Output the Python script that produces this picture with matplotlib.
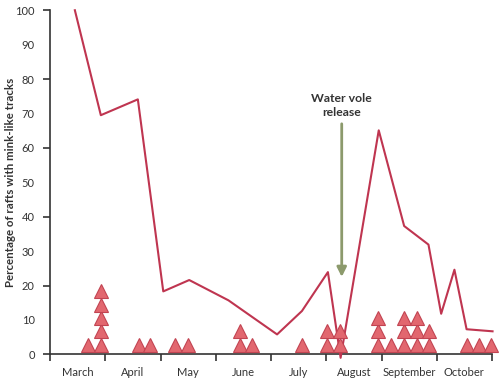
import numpy as np
import matplotlib.pyplot as plt
from matplotlib.ticker import FixedLocator

plt.rcParams['font.family'] = ['Lato', 'DejaVu Sans']

# x in month units (0 = start of March)
months = ['March', 'April', 'May', 'June', 'July', 'August', 'September', 'October']

line_x = [0.45, 0.92, 1.59, 2.05, 2.52, 3.23, 4.11, 4.56, 5.03, 5.26,
          5.95, 6.41, 6.85, 7.08, 7.32, 7.54, 8.01]
line_y = [100, 69.5, 74.1, 18.3, 21.6, 15.7, 5.8, 12.6, 23.9, -1,
          65.1, 37.3, 31.9, 11.8, 24.6, 7.3, 6.7]

tri_x = [0.69, 0.92, 1.61, 1.81, 2.27, 2.50, 3.43, 3.65, 4.56, 5.01,
         5.25, 5.93, 6.17, 6.40, 6.64, 6.86, 7.55, 7.77, 7.98]
tri_count = [1, 5, 1, 1, 1, 1, 2, 1, 1, 2, 2, 3, 1, 3, 3, 2, 1, 1, 1]

release_x = 5.28

fig = plt.figure(figsize=(5, 3.79), dpi=100)
ax = fig.add_axes([0.1, 0.065, 0.884, 0.908])

line_col = '#bf3550'
ax.plot(line_x, line_y, color=line_col, lw=1.5, clip_on=False, zorder=3)

# stacked triangle markers
px, py = [], []
for x, n in zip(tri_x, tri_count):
    for k in range(n):
        px.append(x)
        py.append(2.8 + 3.87 * k)
ax.plot(px, py, ls='none', marker='^', ms=9.5, mfc='#e2676f', mec='#c24452',
        mew=0.8, clip_on=False, zorder=4)

# release arrow
ax.annotate('', xy=(release_x, 22.5), xytext=(release_x, 67),
            arrowprops=dict(arrowstyle='-|>', color='#8c9a6c', lw=2,
                            mutation_scale=14, shrinkA=0, shrinkB=0))
ax.text(release_x, 68.8, 'Water vole\nrelease', ha='center', va='bottom',
        fontsize=8.8, fontweight='bold', color='#333333', linespacing=1.3)

ax.set_xlim(0, 8)
ax.set_ylim(0, 100)
for s in ['top', 'right']:
    ax.spines[s].set_visible(False)
for s in ['left', 'bottom']:
    ax.spines[s].set_color('#333333')
    ax.spines[s].set_linewidth(1.2)

ax.set_xticks(range(9))
ax.set_xticklabels([])
ax.xaxis.set_minor_locator(FixedLocator(np.arange(0.5, 8, 1)))
ax.set_xticklabels(months, minor=True)
ax.tick_params(axis='x', which='major', length=5, width=1.2, color='#333333')
ax.tick_params(axis='x', which='minor', length=0, pad=9, labelsize=8,
               labelcolor='#333333')

ax.set_yticks(range(0, 101, 20))
ax.yaxis.set_minor_locator(FixedLocator(range(10, 100, 20)))
ax.set_yticklabels([str(v) for v in range(10, 100, 20)], minor=True)
ax.tick_params(axis='y', which='major', length=5, width=1.2, color='#333333',
               labelsize=8, labelcolor='#333333', pad=6)
ax.tick_params(axis='y', which='minor', length=0, labelsize=8,
               labelcolor='#333333', pad=11)

ax.set_ylabel('Percentage of rafts with mink-like tracks', fontsize=8.3,
              fontweight='bold', color='#333333')
ax.yaxis.set_label_coords(-0.078, 0.5)

fig.savefig('out.png', dpi=100)
